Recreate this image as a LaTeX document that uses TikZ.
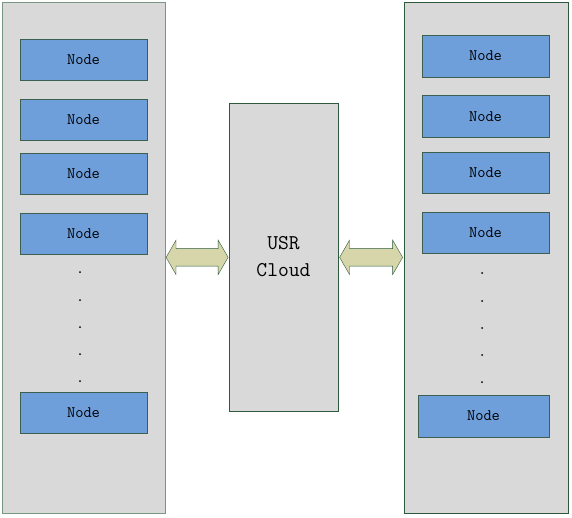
\documentclass[tikz,border=0pt]{standalone}
\usepackage{xcolor}
\usepackage{tikz}
\usetikzlibrary{shapes.arrows, positioning, calc}
\definecolor{panelgray}{RGB}{217,217,217}
\definecolor{paneledge}{RGB}{120,150,130}
\definecolor{darkedge}{RGB}{45,90,60}
\definecolor{nodeblue}{RGB}{111,159,218}
\definecolor{nodeedge}{RGB}{60,95,80}
\definecolor{arrowfill}{RGB}{214,214,170}
\tikzset{
  panel/.style={
      draw=darkedge,
      fill=panelgray,
      rectangle,
      anchor=north west,
      inner sep=0pt
  },
  member/.style={
      draw=nodeedge,
      fill=nodeblue,
      rectangle,
      minimum width=127pt,
      minimum height=41pt,
      inner sep=0pt,
      font=\fontsize{16}{18}\ttfamily
  },
  dotmark/.style={circle, fill=black, inner sep=0pt, minimum size=2pt},
  link/.style={
      draw=darkedge,
      fill=arrowfill,
      double arrow,
      double arrow head extend=8.5pt,
      double arrow tip angle=120,
      minimum width=34pt,
      inner sep=8.5pt
  }
}
\begin{document}
\begin{tikzpicture}[x=1pt, y=-1pt]
      \useasboundingbox (0,0) rectangle (572,517);
      % Panels
      \node (left) [panel, draw=paneledge, minimum width=163pt, minimum height=511pt] at (2,2) {};
      \node (right) [panel, minimum width=164pt, minimum height=511pt] at (404,2) {};
      \node (cloud) [panel, anchor=center, minimum width=109pt, minimum height=308pt, align=center,
          font=\fontsize{21}{27}\ttfamily] at (283.5,257) {USR\\Cloud};

      % Left members
      \node (l1) [member] at (83.5,59.5) {Node};
      \node (l2) [member, below=19pt of l1] {Node};
      \node (l3) [member, below=12pt of l2] {Node};
      \node (l4) [member, below=19pt of l3] {Node};
      \node (l5) [member] at (83.5,412.5) {Node};

      % Right members
      \node (r1) [member, minimum height=42pt] at (485.5,56) {Node};
      \node (r2) [member, minimum height=42pt, below=18pt of r1] {Node};
      \node (r3) [member] at (485.5,172.5) {Node};
      \node (r4) [member, below=19pt of r3] {Node};
      \node (r5) [member, minimum width=131pt, minimum height=42pt] at (483.5,416) {Node};

      % Dots
      \foreach \y in {272,300,327,354,381} {
          \node [dotmark] at (80,\y) {};
          \node [dotmark] at (482,\y+1) {};
      }

      % Links
      \node (ll) [link, minimum height=62pt] at ($(left.east)!0.5!(cloud.west)$) {};
      \node (rl) [link, minimum height=63pt] at ($(cloud.east)!0.5!(right.west)$) {};
\end{tikzpicture}
\end{document}
